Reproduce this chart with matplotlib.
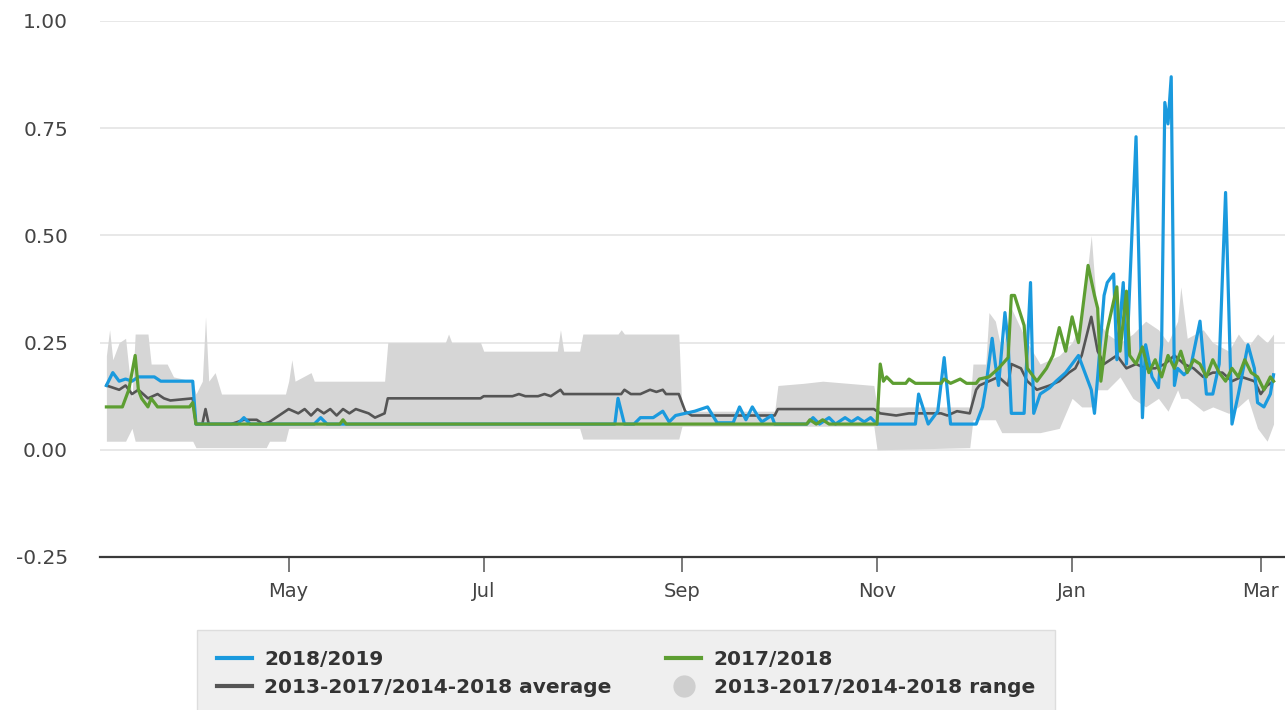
import matplotlib
matplotlib.use("Agg")
import matplotlib.pyplot as plt
import matplotlib.dates as mdates
from matplotlib.lines import Line2D
import pandas as pd

# values: (date, value)
season_1819 = [
    ("2018-03-05", 0.15), ("2018-03-07", 0.18), ("2018-03-09", 0.16), ("2018-03-11", 0.165),
    ("2018-03-13", 0.16), ("2018-03-15", 0.17), ("2018-03-20", 0.17), ("2018-03-22", 0.16),
    ("2018-04-01", 0.16), ("2018-04-02", 0.06), ("2018-04-15", 0.06), ("2018-04-17", 0.075),
    ("2018-04-19", 0.06), ("2018-05-09", 0.06), ("2018-05-11", 0.075), ("2018-05-13", 0.06),
    ("2018-08-11", 0.06), ("2018-08-12", 0.12), ("2018-08-14", 0.06), ("2018-08-17", 0.06),
    ("2018-08-19", 0.075), ("2018-08-23", 0.075), ("2018-08-26", 0.09), ("2018-08-28", 0.065),
    ("2018-08-30", 0.08), ("2018-09-02", 0.085), ("2018-09-05", 0.09), ("2018-09-09", 0.10),
    ("2018-09-12", 0.063), ("2018-09-17", 0.063), ("2018-09-19", 0.10), ("2018-09-21", 0.07),
    ("2018-09-23", 0.10), ("2018-09-25", 0.075), ("2018-09-26", 0.065), ("2018-09-29", 0.08),
    ("2018-09-30", 0.06), ("2018-10-10", 0.06), ("2018-10-12", 0.075), ("2018-10-14", 0.06),
    ("2018-10-17", 0.075), ("2018-10-19", 0.06), ("2018-10-22", 0.075), ("2018-10-24", 0.065),
    ("2018-10-26", 0.075), ("2018-10-28", 0.065), ("2018-10-30", 0.075), ("2018-11-01", 0.06),
    ("2018-11-13", 0.06), ("2018-11-14", 0.13), ("2018-11-17", 0.06), ("2018-11-20", 0.09),
    ("2018-11-22", 0.215), ("2018-11-24", 0.06), ("2018-12-02", 0.06), ("2018-12-04", 0.10),
    ("2018-12-05", 0.145), ("2018-12-07", 0.26), ("2018-12-08", 0.20), ("2018-12-09", 0.15),
    ("2018-12-11", 0.32), ("2018-12-12", 0.25), ("2018-12-13", 0.085), ("2018-12-17", 0.085),
    ("2018-12-19", 0.39), ("2018-12-20", 0.085), ("2018-12-22", 0.13), ("2018-12-25", 0.145),
    ("2018-12-27", 0.16), ("2018-12-30", 0.18), ("2019-01-01", 0.20), ("2019-01-03", 0.22),
    ("2019-01-05", 0.18), ("2019-01-07", 0.14), ("2019-01-08", 0.085), ("2019-01-09", 0.17),
    ("2019-01-11", 0.36), ("2019-01-12", 0.39), ("2019-01-14", 0.41), ("2019-01-15", 0.21),
    ("2019-01-17", 0.39), ("2019-01-18", 0.20), ("2019-01-21", 0.73), ("2019-01-23", 0.075),
    ("2019-01-24", 0.245), ("2019-01-26", 0.17), ("2019-01-28", 0.145), ("2019-01-29", 0.245),
    ("2019-01-30", 0.81), ("2019-01-31", 0.76), ("2019-02-01", 0.87), ("2019-02-02", 0.15),
    ("2019-02-03", 0.19), ("2019-02-05", 0.175), ("2019-02-07", 0.19), ("2019-02-10", 0.30),
    ("2019-02-12", 0.13), ("2019-02-14", 0.13), ("2019-02-16", 0.20), ("2019-02-18", 0.60),
    ("2019-02-20", 0.06), ("2019-02-22", 0.13), ("2019-02-25", 0.245), ("2019-02-27", 0.19),
    ("2019-02-28", 0.11), ("2019-03-02", 0.10), ("2019-03-04", 0.13), ("2019-03-05", 0.175),
]

season_1718 = [
    ("2018-03-05", 0.10), ("2018-03-10", 0.10), ("2018-03-12", 0.14), ("2018-03-14", 0.22),
    ("2018-03-15", 0.14), ("2018-03-16", 0.12), ("2018-03-18", 0.10), ("2018-03-19", 0.12),
    ("2018-03-21", 0.10), ("2018-03-31", 0.10), ("2018-04-01", 0.11), ("2018-04-02", 0.06),
    ("2018-05-17", 0.06), ("2018-05-18", 0.07), ("2018-05-19", 0.06), ("2018-10-10", 0.06),
    ("2018-10-11", 0.07), ("2018-10-13", 0.06), ("2018-10-15", 0.07), ("2018-10-17", 0.06),
    ("2018-11-01", 0.06), ("2018-11-02", 0.20), ("2018-11-03", 0.16), ("2018-11-04", 0.17),
    ("2018-11-06", 0.155), ("2018-11-10", 0.155), ("2018-11-11", 0.165), ("2018-11-13", 0.155),
    ("2018-11-21", 0.155), ("2018-11-22", 0.165), ("2018-11-24", 0.155), ("2018-11-27", 0.165),
    ("2018-11-29", 0.155), ("2018-12-02", 0.155), ("2018-12-03", 0.165), ("2018-12-06", 0.17),
    ("2018-12-09", 0.19), ("2018-12-12", 0.215), ("2018-12-13", 0.36), ("2018-12-14", 0.36),
    ("2018-12-17", 0.29), ("2018-12-18", 0.19), ("2018-12-21", 0.16), ("2018-12-24", 0.19),
    ("2018-12-26", 0.22), ("2018-12-28", 0.285), ("2018-12-30", 0.23), ("2019-01-01", 0.31),
    ("2019-01-03", 0.25), ("2019-01-06", 0.43), ("2019-01-08", 0.36), ("2019-01-09", 0.33),
    ("2019-01-10", 0.16), ("2019-01-12", 0.28), ("2019-01-15", 0.38), ("2019-01-16", 0.23),
    ("2019-01-18", 0.37), ("2019-01-19", 0.22), ("2019-01-21", 0.20), ("2019-01-23", 0.24),
    ("2019-01-25", 0.18), ("2019-01-27", 0.21), ("2019-01-29", 0.17), ("2019-01-31", 0.22),
    ("2019-02-02", 0.19), ("2019-02-04", 0.23), ("2019-02-06", 0.18), ("2019-02-08", 0.21),
    ("2019-02-10", 0.20), ("2019-02-12", 0.17), ("2019-02-14", 0.21), ("2019-02-16", 0.18),
    ("2019-02-18", 0.16), ("2019-02-20", 0.19), ("2019-02-22", 0.17), ("2019-02-24", 0.21),
    ("2019-02-26", 0.18), ("2019-02-28", 0.17), ("2019-03-02", 0.14), ("2019-03-04", 0.17),
    ("2019-03-05", 0.16),
]

avg_5yr = [
    ("2018-03-05", 0.15), ("2018-03-09", 0.14), ("2018-03-11", 0.15), ("2018-03-13", 0.13),
    ("2018-03-15", 0.14), ("2018-03-18", 0.12), ("2018-03-21", 0.13), ("2018-03-23", 0.12),
    ("2018-03-25", 0.115), ("2018-04-01", 0.12), ("2018-04-02", 0.06), ("2018-04-04", 0.06),
    ("2018-04-05", 0.095), ("2018-04-06", 0.06), ("2018-04-13", 0.06), ("2018-04-17", 0.07),
    ("2018-04-21", 0.07), ("2018-04-23", 0.06), ("2018-04-25", 0.065), ("2018-04-28", 0.08),
    ("2018-05-01", 0.095), ("2018-05-04", 0.085), ("2018-05-06", 0.095), ("2018-05-08", 0.08),
    ("2018-05-10", 0.095), ("2018-05-12", 0.085), ("2018-05-14", 0.095), ("2018-05-16", 0.08),
    ("2018-05-18", 0.095), ("2018-05-20", 0.085), ("2018-05-22", 0.095), ("2018-05-24", 0.09),
    ("2018-05-26", 0.085), ("2018-05-28", 0.075), ("2018-05-31", 0.085), ("2018-06-01", 0.12),
    ("2018-06-30", 0.12), ("2018-07-01", 0.125), ("2018-07-10", 0.125), ("2018-07-12", 0.13),
    ("2018-07-14", 0.125), ("2018-07-18", 0.125), ("2018-07-20", 0.13), ("2018-07-22", 0.125),
    ("2018-07-25", 0.14), ("2018-07-26", 0.13), ("2018-08-13", 0.13), ("2018-08-14", 0.14),
    ("2018-08-16", 0.13), ("2018-08-19", 0.13), ("2018-08-22", 0.14), ("2018-08-24", 0.135),
    ("2018-08-26", 0.14), ("2018-08-27", 0.13), ("2018-08-31", 0.13), ("2018-09-02", 0.09),
    ("2018-09-04", 0.08), ("2018-09-30", 0.08), ("2018-10-01", 0.095), ("2018-10-31", 0.095),
    ("2018-11-02", 0.085), ("2018-11-07", 0.08), ("2018-11-11", 0.085), ("2018-11-21", 0.085),
    ("2018-11-23", 0.08), ("2018-11-26", 0.09), ("2018-11-30", 0.085), ("2018-12-02", 0.14),
    ("2018-12-03", 0.15), ("2018-12-06", 0.16), ("2018-12-09", 0.17), ("2018-12-12", 0.15),
    ("2018-12-13", 0.20), ("2018-12-16", 0.19), ("2018-12-18", 0.16), ("2018-12-21", 0.14),
    ("2018-12-25", 0.15), ("2018-12-28", 0.16), ("2018-12-31", 0.18), ("2019-01-02", 0.19),
    ("2019-01-04", 0.22), ("2019-01-07", 0.31), ("2019-01-09", 0.23), ("2019-01-11", 0.20),
    ("2019-01-15", 0.22), ("2019-01-18", 0.19), ("2019-01-21", 0.20), ("2019-01-24", 0.19),
    ("2019-01-27", 0.19), ("2019-01-30", 0.20), ("2019-02-02", 0.22), ("2019-02-05", 0.20),
    ("2019-02-08", 0.19), ("2019-02-11", 0.17), ("2019-02-14", 0.18), ("2019-02-17", 0.18),
    ("2019-02-20", 0.16), ("2019-02-23", 0.17), ("2019-02-27", 0.16), ("2019-03-01", 0.13),
    ("2019-03-03", 0.15), ("2019-03-05", 0.16),
]

# 5-year range: (date, low, high)
range_5yr = [
    ("2018-03-05", 0.02, 0.22), ("2018-03-06", 0.02, 0.28), ("2018-03-07", 0.02, 0.21),
    ("2018-03-09", 0.02, 0.25), ("2018-03-11", 0.02, 0.26), ("2018-03-13", 0.05, 0.12),
    ("2018-03-14", 0.02, 0.27), ("2018-03-18", 0.02, 0.27), ("2018-03-19", 0.02, 0.20),
    ("2018-03-24", 0.02, 0.20), ("2018-03-26", 0.02, 0.17), ("2018-04-01", 0.02, 0.16),
    ("2018-04-02", 0.005, 0.13), ("2018-04-04", 0.005, 0.16), ("2018-04-05", 0.005, 0.31),
    ("2018-04-06", 0.005, 0.16), ("2018-04-08", 0.005, 0.18), ("2018-04-10", 0.005, 0.13),
    ("2018-04-24", 0.005, 0.13), ("2018-04-25", 0.02, 0.13), ("2018-04-30", 0.02, 0.13),
    ("2018-05-01", 0.05, 0.16), ("2018-05-02", 0.05, 0.21), ("2018-05-03", 0.05, 0.16),
    ("2018-05-08", 0.05, 0.18), ("2018-05-09", 0.05, 0.16), ("2018-05-31", 0.05, 0.16),
    ("2018-06-01", 0.05, 0.25), ("2018-06-19", 0.05, 0.25), ("2018-06-20", 0.05, 0.27),
    ("2018-06-21", 0.05, 0.25), ("2018-06-30", 0.05, 0.25), ("2018-07-01", 0.05, 0.23),
    ("2018-07-24", 0.05, 0.23), ("2018-07-25", 0.05, 0.28), ("2018-07-26", 0.05, 0.23),
    ("2018-07-31", 0.05, 0.23), ("2018-08-01", 0.025, 0.27), ("2018-08-12", 0.025, 0.27),
    ("2018-08-13", 0.025, 0.28), ("2018-08-14", 0.025, 0.27), ("2018-08-31", 0.025, 0.27),
    ("2018-09-01", 0.055, 0.09), ("2018-09-30", 0.055, 0.09), ("2018-10-01", 0.055, 0.15),
    ("2018-10-09", 0.055, 0.155), ("2018-10-15", 0.055, 0.16), ("2018-10-31", 0.055, 0.15),
    ("2018-11-01", 0.0, 0.10), ("2018-11-30", 0.005, 0.10), ("2018-12-01", 0.07, 0.20),
    ("2018-12-05", 0.07, 0.20), ("2018-12-06", 0.07, 0.32), ("2018-12-08", 0.07, 0.30),
    ("2018-12-10", 0.04, 0.23), ("2018-12-13", 0.04, 0.33), ("2018-12-18", 0.04, 0.25),
    ("2018-12-22", 0.04, 0.20), ("2018-12-28", 0.05, 0.22), ("2019-01-01", 0.12, 0.25),
    ("2019-01-04", 0.10, 0.30), ("2019-01-07", 0.10, 0.50), ("2019-01-09", 0.14, 0.30),
    ("2019-01-12", 0.14, 0.27), ("2019-01-16", 0.17, 0.25), ("2019-01-20", 0.12, 0.27),
    ("2019-01-24", 0.10, 0.30), ("2019-01-28", 0.12, 0.28), ("2019-01-31", 0.09, 0.25),
    ("2019-02-03", 0.14, 0.30), ("2019-02-04", 0.12, 0.38), ("2019-02-06", 0.12, 0.26),
    ("2019-02-11", 0.09, 0.28), ("2019-02-14", 0.10, 0.25), ("2019-02-19", 0.085, 0.23),
    ("2019-02-22", 0.10, 0.27), ("2019-02-25", 0.12, 0.24), ("2019-02-28", 0.05, 0.27),
    ("2019-03-03", 0.02, 0.25), ("2019-03-05", 0.06, 0.27),
]

labels = ["2018/2019", "2017/2018", "2013-2017/2014-2018 average", "2013-2017/2014-2018 range"]
yticks = [-0.25, 0.0, 0.25, 0.5, 0.75, 1.0]

BLUE = "#1a9ade"
GREEN = "#5d9e32"
DARK = "#555555"
BAND = "#d6d6d6"


def unzip(rows):
    d = pd.to_datetime([r[0] for r in rows])
    return d, [r[1] for r in rows]


fig = plt.figure(figsize=(12.85, 7.10), dpi=100)
ax = fig.add_axes([100 / 1285, 1 - 557 / 710, 1185 / 1285, 536 / 710])

rd = pd.to_datetime([r[0] for r in range_5yr])
ax.fill_between(rd, [r[1] for r in range_5yr], [r[2] for r in range_5yr],
                color=BAND, lw=0, zorder=1)

d, v = unzip(avg_5yr)
ax.plot(d, v, color=DARK, lw=1.9, zorder=2)
d, v = unzip(season_1819)
ax.plot(d, v, color=BLUE, lw=2.3, zorder=3)
d, v = unzip(season_1718)
ax.plot(d, v, color=GREEN, lw=2.3, zorder=4)

ax.set_xlim(pd.Timestamp("2018-03-03"), pd.Timestamp("2019-03-08 14:00"))
ax.set_ylim(-0.25, 1.0)
ax.set_yticks(yticks)
ax.set_yticklabels([f"{t:.2f}" for t in yticks])
for t in yticks[1:]:
    ax.axhline(t, color="#e6e6e6", lw=1.3, zorder=0)

ax.xaxis.set_major_locator(mdates.MonthLocator(bymonth=[1, 3, 5, 7, 9, 11]))
ax.xaxis.set_major_formatter(mdates.DateFormatter("%b"))

for s in ["top", "left", "right"]:
    ax.spines[s].set_visible(False)
ax.spines["bottom"].set_color("#3a3a3a")
ax.spines["bottom"].set_linewidth(1.6)
ax.spines["bottom"].set_position(("data", -0.25))

ax.tick_params(axis="y", length=0, pad=23, labelsize=14.5, labelcolor="#444444")
ax.tick_params(axis="x", length=11, width=1.1, color="#555555", pad=7,
               labelsize=14, labelcolor="#444444")

handles = [
    Line2D([], [], color=BLUE, lw=3),
    Line2D([], [], color=DARK, lw=3),
    Line2D([], [], color=GREEN, lw=3),
    Line2D([], [], marker="o", ls="none", ms=15, color="#cfcfcf"),
]
leg = fig.legend(handles, [labels[0], labels[2], labels[1], labels[3]],
                 ncol=2, loc="upper left", bbox_to_anchor=(197 / 1285, 1 - 630 / 710),
                 borderaxespad=0, frameon=True, fancybox=False,
                 facecolor="#efefef", edgecolor="#dddddd", framealpha=1,
                 handlelength=1.75, handletextpad=0.6, labelspacing=0.45,
                 borderpad=1.0, columnspacing=2.7,
                 prop={"size": 14.5, "weight": "bold"})
for t in leg.get_texts():
    t.set_color("#333333")

fig.savefig("out.png", dpi=100)
